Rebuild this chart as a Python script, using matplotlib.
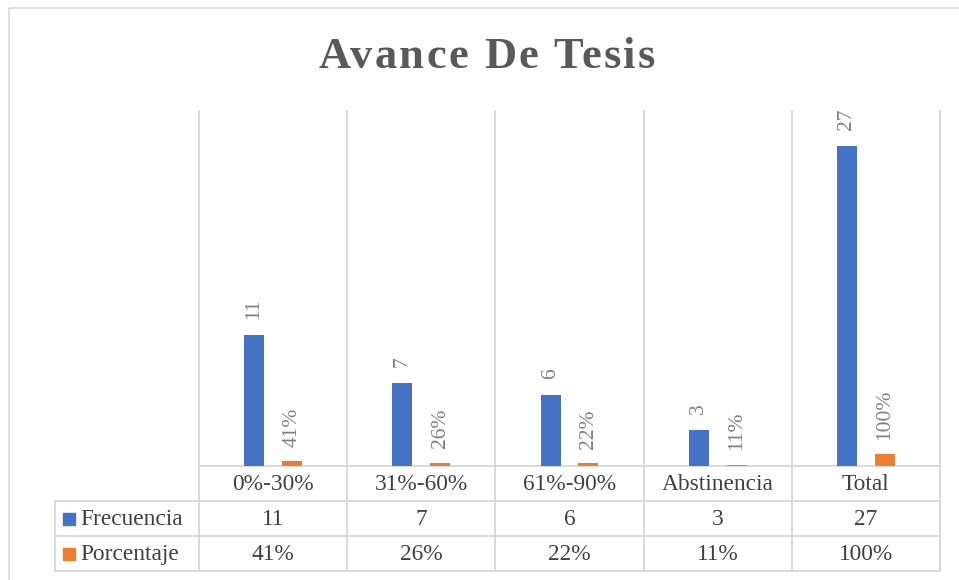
import numpy as np
import matplotlib
matplotlib.use("Agg")
import matplotlib.pyplot as plt
from matplotlib.patches import Rectangle
from matplotlib.font_manager import FontProperties

# Datos
categorias = ["0%-30%", "31%-60%", "61%-90%", "Abstinencia", "Total"]
frecuencia = [11, 7, 6, 3, 27]
porcentaje = [0.41, 0.26, 0.22, 0.11, 1.00]
series = ["Frecuencia", "Porcentaje"]
etiquetas_pct = ["41%", "26%", "22%", "11%", "100%"]
titulo = "Avance De Tesis"

plt.rcParams['font.family'] = ['Liberation Serif', 'DejaVu Serif']

AZUL = "#4472C4"
NARANJA = "#ED7D31"
LINEA = "#D9D9D9"
TEXTO = "#404040"
ETIQ = "#808080"

W, H = 959, 580
fig = plt.figure(figsize=(W / 100, H / 100), dpi=100)

# Layout (pixels)
x0, x1 = 199, 940
ytop, ybase = 110, 466
row_h = 35
leg_x = 55
n = len(categorias)
col_w = (x1 - x0) / n
fs_tabla = 16.8

# Overlay axes in pixel coordinates for frame, grid and data table
ov = fig.add_axes([0, 0, 1, 1], zorder=0)
ov.set_xlim(0, W)
ov.set_ylim(H, 0)
ov.axis('off')
ov.add_patch(Rectangle((9, 8), W, H, fill=False, edgecolor=LINEA, lw=1.2))

# Bar axes
ax = fig.add_axes([x0 / W, 1 - ybase / H, (x1 - x0) / W, (ybase - ytop) / H], zorder=2)
ax.set_xlim(-0.5, n - 0.5)
ax.set_ylim(0, 30)
ax.axis('off')
ax.patch.set_alpha(0)

xs = np.arange(n)
w = 0.135
off = 0.128
ax.bar(xs - off, frecuencia, w, color=AZUL, linewidth=0)
ax.bar(xs + off, porcentaje, w, color=NARANJA, linewidth=0)
for x, v in zip(xs - off, frecuencia):
    ax.annotate(str(v), (x, v), xytext=(0, 11.5), textcoords='offset points',
                rotation=90, ha='center', va='bottom', fontsize=15.5, color=ETIQ)
for x, v, t in zip(xs + off, porcentaje, etiquetas_pct):
    ax.annotate(t, (x, v), xytext=(0, 10.5), textcoords='offset points',
                rotation=90, ha='center', va='bottom', fontsize=15.5, color=ETIQ)

# Grid / table lines
y_cat = ybase + row_h
y_f = y_cat + row_h
y_p = y_f + row_h
for i in range(n + 1):
    xb = x0 + i * col_w
    ov.plot([xb, xb], [ytop, y_p], color=LINEA, lw=1.4, solid_capstyle='butt')
ov.plot([x0, x1], [ybase, ybase], color=LINEA, lw=1.4)
for yy in (y_cat, y_f, y_p):
    ov.plot([leg_x, x1], [yy, yy], color=LINEA, lw=1.4)
ov.plot([leg_x, leg_x], [y_cat, y_p], color=LINEA, lw=1.4)

# Table text
for i, c in enumerate(categorias):
    cx = x0 + (i + 0.5) * col_w
    ov.text(cx, ybase + row_h / 2 + 1, c, ha='center', va='center', fontsize=fs_tabla, color=TEXTO)
    ov.text(cx, y_cat + row_h / 2 + 1, str(frecuencia[i]), ha='center', va='center', fontsize=fs_tabla, color=TEXTO)
    ov.text(cx, y_f + row_h / 2 + 1, etiquetas_pct[i], ha='center', va='center', fontsize=fs_tabla, color=TEXTO)

for yy, s, col in ((y_cat, series[0], AZUL), (y_f, series[1], NARANJA)):
    ov.add_patch(Rectangle((63, yy + row_h / 2 - 6), 12, 12, color=col))
    ov.text(80, yy + row_h / 2 + 1, s, ha='left', va='center', fontsize=fs_tabla, color=TEXTO)

# Title with letter spacing
renderer = fig.canvas.get_renderer()
prop = FontProperties(family=['Liberation Serif'], weight='bold', size=32)
spacing = 2.4  # px between characters


def ancho(s):
    wpt, _, _ = renderer.get_text_width_height_descent(s, prop, ismath=False)
    return wpt


total = ancho(titulo) + spacing * (len(titulo) - 1)
xstart = 487 - total / 2
ybase_t = 68
for i, ch in enumerate(titulo):
    if ch == " ":
        continue
    xr = xstart + ancho(titulo[:i + 1]) + spacing * i
    ov.text(xr, ybase_t, ch, ha='right', va='baseline', fontproperties=prop, color="#595959")

fig.savefig("out.png", dpi=100)
